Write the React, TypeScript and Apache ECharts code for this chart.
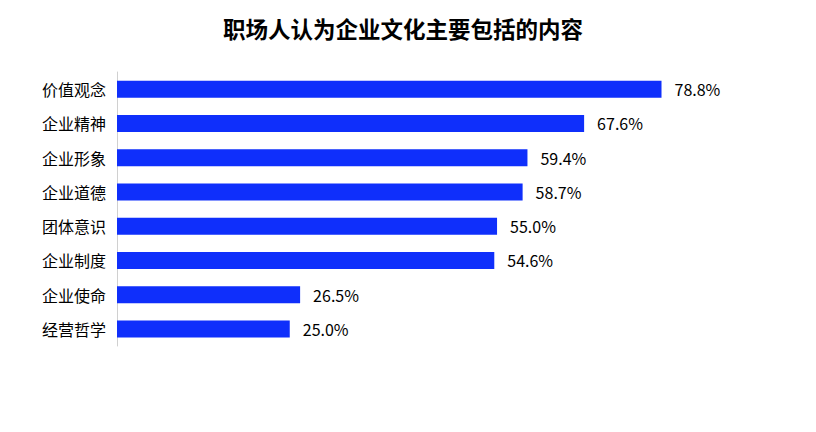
import React, { useEffect, useRef } from "react";
import * as echarts from "echarts";

const categories = ["价值观念", "企业精神", "企业形象", "企业道德", "团体意识", "企业制度", "企业使命", "经营哲学"];
const values = [78.8, 67.6, 59.4, 58.7, 55.0, 54.6, 26.5, 25.0];
const titleText = "职场人认为企业文化主要包括的内容";

export default function App() {
  const ref = useRef<HTMLDivElement>(null);
  useEffect(() => {
    const chart = echarts.init(ref.current!, null, { renderer: "svg" });
    chart.setOption({
      animation: false,
      textStyle: { fontFamily: "Noto Sans CJK SC" },
      title: {
        text: titleText,
        left: 390,
        textAlign: "center",
        top: 4,
        textStyle: { fontSize: 22.5, fontWeight: "bold", color: "#000", fontFamily: "Noto Sans CJK SC" },
      },
      grid: { left: 109, top: 64, width: 700, height: 274, containLabel: false },
      xAxis: {
        type: "value",
        min: 0,
        max: 100,
        show: false,
      },
      yAxis: {
        type: "category",
        inverse: true,
        data: categories,
        axisLine: { show: true, lineStyle: { color: "#d0d0d0", width: 1 } },
        axisTick: { show: false },
        axisLabel: { fontSize: 16, color: "#000", margin: 11, fontFamily: "Noto Sans CJK SC" },
        splitLine: { show: false },
      },
      series: [
        {
          type: "bar",
          data: values,
          barWidth: 17,
          itemStyle: { color: "#0f2ffb" },
          label: {
            show: true,
            position: "right",
            distance: 13,
            fontSize: 16,
            color: "#000",
            fontFamily: "Noto Sans CJK SC",
            formatter: (p: any) => p.value.toFixed(1) + "%",
          },
        },
      ],
    });
    return () => chart.dispose();
  }, []);
  return <div ref={ref} style={{ width: 800, height: 416 }} />;
}
